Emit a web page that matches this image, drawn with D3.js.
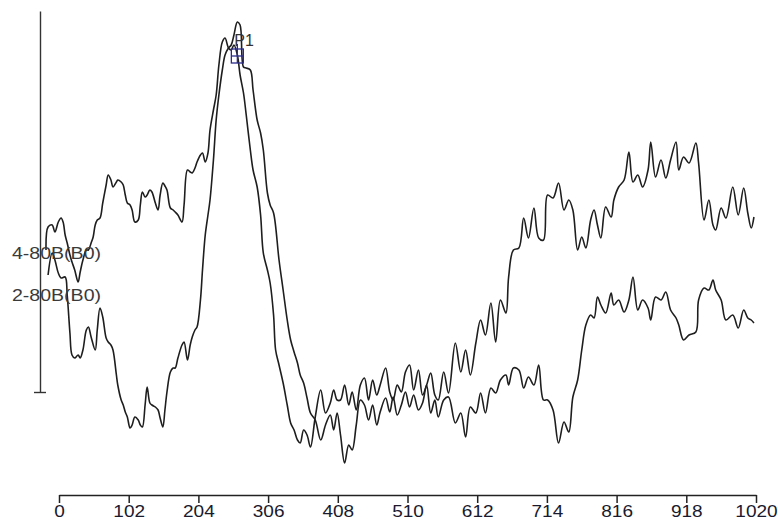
<!DOCTYPE html>
<html>
<head>
<meta charset="utf-8">
<script src="https://cdn.jsdelivr.net/npm/d3@7"></script>
<style>
  body { margin: 0; background: #fff; }
  svg { display: block; }
</style>
</head>
<body>
<svg width="778" height="523"></svg>
<script>
// tick labels on the time axis
const xTicks = [0, 102, 204, 306, 408, 510, 612, 714, 816, 918, 1020];

// trace names and the level where each name sits
const seriesNames = ["4-80B(B0)", "2-80B(B0)"];
const labelLevels = [13.9, 9.7];

// peak marker
const peakName = "P1";
const peakPoint = [261, 33.6];

// trace 1 : [time, amplitude]
const trace1 = [
  [-19, 14.2], [-16, 16.5], [-10, 16.7], [-6, 16.0], [-1, 17.0], [3, 17.4], [6, 17.0], [9, 15.7],
  [12, 14.9], [16, 13.7], [19, 13.0], [23, 12.2], [28, 11.0], [31, 12.0], [35, 13.2], [40, 14.2],
  [43, 14.2], [47, 14.9], [50, 15.5], [53, 16.7], [56, 17.2], [60, 17.4], [64, 18.9], [69, 20.7],
  [72, 21.7], [76, 21.2], [79, 20.5], [84, 21.0], [86, 21.2], [91, 21.0], [94, 20.7], [97, 19.7],
  [100, 18.9], [104, 18.7], [107, 18.2], [111, 17.0], [116, 17.2], [119, 18.7], [122, 20.0],
  [126, 19.5], [129, 19.7], [133, 20.2], [136, 20.0], [141, 18.9], [145, 18.2], [148, 19.7],
  [152, 20.9], [155, 20.6], [158, 20.2], [163, 18.4], [167, 18.2], [170, 18.0], [174, 17.7],
  [180, 17.0], [183, 18.7], [188, 22.2], [192, 22.0], [195, 21.9], [199, 22.4], [202, 23.0],
  [207, 23.7], [210, 23.9], [214, 23.0], [218, 23.9], [221, 26.2], [226, 28.2], [230, 29.7],
  [234, 32.7], [239, 35.0], [243, 35.4], [248, 34.4], [252, 34.2], [256, 34.7], [261, 33.7],
  [265, 31.7], [270, 29.9], [274, 27.7], [280, 24.2], [284, 22.2], [290, 20.5], [295, 17.7],
  [299, 13.9], [305, 12.2], [309, 10.9], [314, 7.7], [317, 4.2], [322, 2.7], [328, 0.9],
  [334, -1.3], [339, -3.1], [344, -3.8], [349, -4.8], [353, -5.1], [358, -3.8], [363, -4.3],
  [368, -5.5], [375, -2.5], [383, 0.2], [390, -2.1], [397, -1.1], [402, 0.2], [407, -0.8],
  [412, -0.8], [418, 0.7], [424, -1.3], [429, 0.0], [435, -1.8], [441, 0.7], [447, 1.4],
  [453, -0.8], [459, 1.2], [465, -0.3], [470, 0.7], [478, 2.4], [484, 0.0], [489, -0.8],
  [495, 0.7], [501, 0.0], [507, 2.0], [513, 2.7], [519, 0.2], [526, 2.2], [532, -0.3],
  [538, 0.7], [544, 1.9], [550, -0.3], [555, -0.8], [563, 2.0], [570, -0.1], [580, 4.9],
  [588, 2.0], [595, 4.2], [602, 1.7], [610, 4.9], [617, 7.2], [624, 5.7], [632, 8.9],
  [639, 5.0], [646, 9.2], [654, 7.9], [658, 11.5], [665, 14.2], [673, 14.4], [680, 17.4],
  [687, 15.4], [695, 18.4], [702, 15.4], [709, 15.2], [715, 19.7], [723, 19.4], [731, 20.9],
  [739, 18.2], [746, 19.2], [752, 18.2], [759, 14.2], [765, 15.5], [771, 14.4], [778, 17.2],
  [783, 18.2], [788, 16.7], [793, 15.4], [800, 18.5], [808, 17.5], [812, 19.2], [819, 20.5],
  [827, 21.2], [834, 24.0], [840, 21.0], [847, 21.7], [854, 20.5], [862, 22.2], [866, 25.0],
  [873, 21.5], [881, 23.2], [888, 21.4], [895, 23.2], [903, 25.0], [907, 22.2], [914, 23.5],
  [922, 22.9], [932, 24.9], [936, 22.9], [944, 17.2], [951, 19.2], [957, 16.7], [961, 16.2],
  [969, 18.4], [976, 17.4], [986, 20.5], [994, 17.7], [1002, 20.4], [1008, 17.9], [1013, 16.4],
  [1017, 17.5]
];

// trace 2 : [time, amplitude]
const trace2 = [
  [-16, 11.7], [-10, 13.9], [-6, 13.2], [-1, 11.9], [3, 11.4], [9, 11.5], [12, 9.7], [16, 5.9],
  [19, 3.7], [23, 3.4], [28, 3.7], [31, 3.4], [35, 4.2], [40, 6.2], [43, 6.5], [47, 5.5],
  [53, 4.2], [56, 6.2], [60, 8.4], [64, 7.5], [69, 5.4], [72, 5.0], [76, 4.7], [79, 4.2],
  [84, 1.7], [86, 0.7], [91, -0.8], [94, -1.3], [97, -2.0], [100, -2.5], [104, -3.6],
  [107, -3.3], [111, -2.5], [116, -2.8], [119, -3.3], [122, -3.5], [126, -1.3], [129, 0.5],
  [133, -1.1], [136, -1.3], [141, -1.5], [145, -1.8], [148, -2.6], [152, -3.5], [155, -1.8],
  [158, 0.0], [163, 2.0], [167, 2.4], [170, 2.4], [174, 3.4], [180, 4.7], [183, 5.0],
  [188, 3.2], [192, 4.7], [195, 5.5], [199, 6.2], [202, 6.5], [207, 9.2], [210, 12.2],
  [214, 15.7], [218, 17.7], [221, 19.2], [226, 23.2], [230, 27.2], [234, 29.7], [239, 32.2],
  [243, 33.7], [248, 34.4], [252, 34.7], [256, 35.7], [261, 37.0], [265, 36.7], [270, 32.5],
  [274, 32.4], [280, 32.2], [284, 30.2], [290, 27.2], [295, 25.9], [299, 24.2], [305, 19.9],
  [309, 18.7], [314, 17.9], [322, 13.2], [328, 10.2], [334, 7.2], [339, 5.2], [344, 4.0],
  [349, 2.9], [353, 1.7], [358, 0.9], [363, -0.6], [368, -2.1], [375, -2.8], [383, -4.8],
  [390, -3.3], [397, -2.3], [402, -3.8], [407, -2.1], [412, -4.3], [418, -7.1], [424, -5.3],
  [429, -5.8], [435, -3.3], [441, -0.8], [447, -1.3], [453, -2.8], [459, -1.3], [465, -3.3],
  [470, -2.0], [478, -0.6], [484, -2.0], [489, -0.5], [495, -2.3], [501, -1.3], [507, 0.0],
  [513, -1.5], [519, -0.3], [526, -1.8], [532, -1.1], [538, 0.7], [544, -2.1], [550, -0.8],
  [555, -2.5], [563, -0.8], [570, -0.5], [580, -3.1], [588, -2.1], [595, -4.5], [602, -1.5],
  [610, -2.1], [617, -0.1], [624, -2.1], [632, 0.4], [639, -0.1], [646, 1.2], [654, 1.7],
  [658, 0.7], [665, 2.4], [673, 2.2], [680, 0.4], [687, 1.5], [695, 0.7], [702, 2.7],
  [709, -0.8], [715, -0.8], [723, -1.8], [731, -5.1], [739, -3.0], [746, -4.0], [752, -0.5],
  [759, 1.2], [765, 4.2], [771, 6.7], [778, 7.7], [783, 7.4], [788, 9.5], [793, 8.7],
  [800, 7.9], [808, 9.9], [812, 8.7], [819, 9.2], [827, 8.0], [834, 9.2], [840, 11.5],
  [847, 8.2], [854, 9.2], [862, 8.4], [866, 7.2], [873, 9.5], [881, 9.2], [888, 10.0],
  [895, 8.2], [903, 7.4], [907, 6.7], [914, 5.2], [922, 5.7], [932, 6.0], [936, 9.2],
  [944, 10.4], [951, 10.2], [957, 11.2], [961, 10.2], [969, 9.2], [976, 7.2], [986, 7.7],
  [994, 6.4], [1002, 8.2], [1008, 7.4], [1013, 7.2], [1017, 6.9]
];

const svg = d3.select("svg");

let x = d3.scaleLinear().domain([0, 1020]).range([59, 756]);
let y = d3.scaleLinear().domain([0, 38.1]).range([392, 11]);

const font = "'Liberation Sans', Arial, sans-serif";

// time axis
let xAxis = d3.axisBottom(x)
  .tickValues(xTicks)
  .tickFormat(d3.format("d"))
  .tickSize(8)
  .tickSizeOuter(0)
  .tickPadding(2);
const gx = svg.append("g")
  .attr("transform", "translate(0, 495)")
  .call(xAxis);
gx.select(".domain").attr("stroke", "#222").attr("stroke-width", 1.5);
gx.selectAll(".tick line").attr("stroke", "#222").attr("stroke-width", 1.5);
gx.selectAll(".tick text")
  .attr("fill", "#1a1a2e")
  .attr("transform", "scale(1.12,1)")
  .style("font-family", font)
  .style("font-size", "17px");

// amplitude axis, no labels, one tick at the bottom
let yAxis = d3.axisLeft(y).tickValues([0]).tickSizeOuter(0).tickFormat("");
const gy = svg.append("g")
  .attr("transform", "translate(40, 0)")
  .call(yAxis);
gy.select(".domain").attr("stroke", "#333").attr("stroke-width", 1.4);
gy.selectAll(".tick line").attr("x1", 6).attr("x2", -6).attr("stroke", "#333").attr("stroke-width", 1.4);

// traces
let line = d3.line()
  .x(function (d) { return x(d[0]); })
  .y(function (d) { return y(d[1]); })
  .curve(d3.curveCatmullRom.alpha(0.5));

[trace1, trace2].forEach(function (t) {
  svg.append("path")
    .datum(t)
    .attr("d", line)
    .attr("fill", "none")
    .attr("stroke", "#1e1e1e")
    .attr("stroke-width", 1.6)
    .attr("stroke-linejoin", "round");
});

// trace names
svg.selectAll("text.name")
  .data(seriesNames)
  .enter()
  .append("text")
  .attr("class", "name")
  .attr("transform", function (d, i) {
    return "translate(12," + y(labelLevels[i]) + ") scale(1.15,1)";
  })
  .attr("dy", "0.35em")
  .attr("fill", "#3a3a3a")
  .style("font-family", font)
  .style("font-size", "17px")
  .text(function (d) { return d; });

// peak marker
const px = x(peakPoint[0]), py = y(peakPoint[1]);
const mk = svg.append("g").attr("stroke", "#2b2b8c").attr("stroke-width", 1.3).attr("fill", "none");
mk.append("rect").attr("x", px - 6).attr("y", py - 7).attr("width", 12).attr("height", 14);
mk.append("line").attr("x1", px).attr("x2", px).attr("y1", py - 12).attr("y2", py + 7);
mk.append("line").attr("x1", px - 6).attr("x2", px + 6).attr("y1", py).attr("y2", py);
svg.append("text")
  .attr("x", px - 3)
  .attr("y", py - 10)
  .attr("fill", "#333")
  .style("font-family", font)
  .style("font-size", "16px")
  .text(peakName);
</script>
</body>
</html>
